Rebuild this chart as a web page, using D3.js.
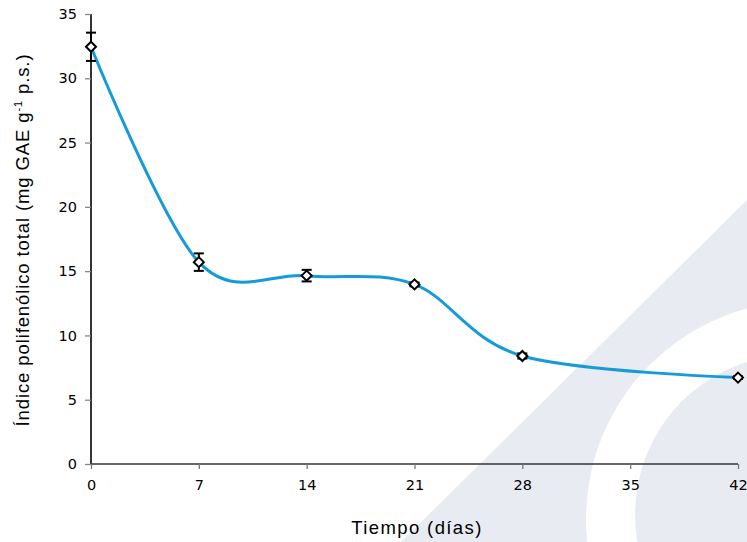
<!DOCTYPE html>
<html><head><meta charset="utf-8">
<script src="https://cdn.jsdelivr.net/npm/d3@7"></script>
<style>html,body{margin:0;padding:0;background:#fff}svg{display:block}</style>
</head><body>
<svg id="c" width="747" height="542"></svg>
<script>
const days = [0, 7, 14, 21, 28, 42];
const values = [32.45, 15.7, 14.65, 13.97, 8.4, 6.72];
const errors = [1.1, 0.68, 0.45, 0.15, 0.2, 0.1];
const xTicks = [0, 7, 14, 21, 28, 35, 42];
const yTicks = [0, 5, 10, 15, 20, 25, 30, 35];

const svg = d3.select("#c");
const W = 747, H = 542;
const x = d3.scaleLinear().domain([0, 42]).range([91, 738]);
const y = d3.scaleLinear().domain([0, 35]).range([464, 14]);

// watermark background
const wm = svg.append("g");
const gray = "#e8ebf2";
wm.append("path").attr("d", `M747,200 L747,${H} L401,${H} Z`).attr("fill", gray);
wm.append("circle").attr("cx", 804).attr("cy", 519).attr("r", 218).attr("fill", "#fff");
wm.append("circle").attr("cx", 794).attr("cy", 514).attr("r", 159).attr("fill", gray);

// axes
const tickFont = "'DejaVu Sans', Verdana, sans-serif";
const yAxis = svg.append("g").attr("transform", `translate(${x(0)},0)`)
  .call(d3.axisLeft(y).tickValues(yTicks).tickSize(6).tickPadding(8).tickFormat(d3.format("d")));
yAxis.select(".domain").attr("stroke", "#000").attr("stroke-width", 1.6).attr("d", `M0,${y(35)}V${y(0)}`);
yAxis.selectAll(".tick line").attr("stroke", "#888").attr("stroke-width", 1.3);
yAxis.selectAll(".tick text").attr("font-family", tickFont).attr("font-size", 14.5).attr("fill", "#000");

const xAxis = svg.append("g").attr("transform", `translate(0,${y(0)})`)
  .call(d3.axisBottom(x).tickValues(xTicks).tickSize(5).tickPadding(11).tickFormat(d3.format("d")));
xAxis.select(".domain").attr("stroke", "#333").attr("stroke-width", 1.4).attr("d", `M${x(0)},0H${x(42)}`);
xAxis.selectAll(".tick line").attr("stroke", "#777").attr("stroke-width", 1.3);
xAxis.selectAll(".tick text").attr("font-family", tickFont).attr("font-size", 14.5).attr("fill", "#000");

// titles
function fitSpacing(sel, target) {
  const n = sel.text().length;
  const L = sel.node().getComputedTextLength();
  sel.attr("letter-spacing", Math.max(0, (target - L) / (n - 1)));
}
const xt = svg.append("text").attr("x", 417).attr("y", 534).attr("text-anchor", "middle")
  .attr("font-family", "'Liberation Sans', Arial, sans-serif").attr("font-size", 18.5).attr("fill", "#000")
  .text("Tiempo (días)");
fitSpacing(xt, 130);
const yt = svg.append("text").attr("transform", "translate(29,240) rotate(-90)").attr("text-anchor", "middle")
  .attr("font-family", "'Liberation Sans', Arial, sans-serif").attr("font-size", 18.5).attr("fill", "#000");
yt.append("tspan").text("Índice polifenólico total (mg GAE g");
yt.append("tspan").attr("dy", -7).attr("font-size", 11).text("-1");
yt.append("tspan").attr("dy", 7).text(" p.s.)");
fitSpacing(yt, 372);

// line
const data = days.map((d, i) => ({ d, v: values[i], e: errors[i] }));
const line = d3.line().x(p => x(p.d)).y(p => y(p.v)).curve(d3.curveCardinal.tension(0));
svg.append("path").datum(data).attr("d", line).attr("fill", "none")
  .attr("stroke", "#159bd7").attr("stroke-width", 3);

// error bars
const eb = svg.append("g").attr("stroke", "#000").attr("stroke-width", 2);
data.forEach(p => {
  const cx = x(p.d), t = y(p.v + p.e), b = y(p.v - p.e);
  eb.append("line").attr("x1", cx).attr("x2", cx).attr("y1", t).attr("y2", b);
  eb.append("line").attr("x1", cx - 5).attr("x2", cx + 5).attr("y1", t).attr("y2", t);
  eb.append("line").attr("x1", cx - 5).attr("x2", cx + 5).attr("y1", b).attr("y2", b);
});

// markers
svg.append("g").selectAll("path").data(data).join("path")
  .attr("transform", p => `translate(${x(p.d)},${y(p.v)})`)
  .attr("d", "M0,-5L5,0L0,5L-5,0Z")
  .attr("fill", "#fff").attr("stroke", "#000").attr("stroke-width", 2);
</script>
</body></html>
